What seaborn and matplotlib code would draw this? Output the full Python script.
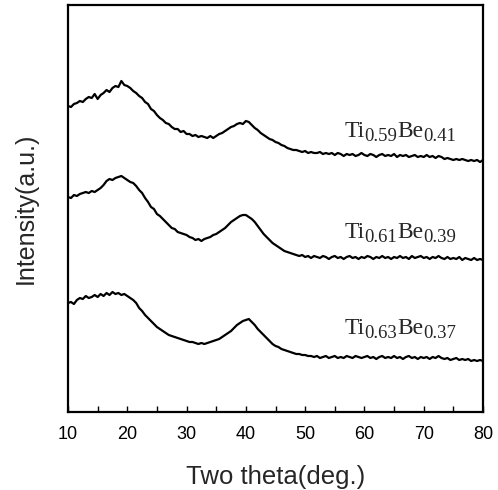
import numpy as np
import pandas as pd
import matplotlib
matplotlib.use("Agg")
import matplotlib.pyplot as plt
import seaborn as sns
from matplotlib.ticker import MultipleLocator

two_theta = np.arange(10, 80.01, 0.5)

ti059 = [306,305,308,309,311,310,313,315,314,318,
         313,317,319,322,320,324,326,325,331,327,
         326,324,321,319,316,314,310,308,303,301,
         297,294,292,289,288,285,283,283,280,281,
         278,278,276,277,275,276,275,274,276,274,
         276,278,279,281,283,285,286,288,289,288,
         291,290,287,284,282,279,277,275,273,272,
         270,269,267,266,264,263,262,262,261,260,
         261,259,260,259,259,260,258,259,258,259,
         257,259,258,256,258,257,258,256,257,259,
         257,256,258,257,255,257,258,256,257,256,
         258,255,257,256,257,255,256,257,255,256,
         255,257,255,256,254,256,255,253,254,253,
         252,253,252,253,252,251,252,251,252,250,
         252]

ti061 = [215,214,217,216,218,219,220,219,221,220,
         222,224,227,231,233,232,234,235,236,234,
         232,230,229,226,222,219,214,210,205,203,
         198,196,193,190,187,184,183,180,179,178,
         177,175,174,172,173,171,173,174,175,177,
         178,180,182,184,187,190,192,194,196,197,
         197,195,193,190,186,182,178,175,172,169,
         167,165,163,161,160,159,158,157,156,157,
         155,156,154,156,155,154,156,155,153,155,
         156,154,155,153,155,156,154,155,153,155,
         154,156,155,153,155,154,156,154,155,153,
         155,154,156,154,155,153,156,154,155,156,
         154,155,153,155,154,156,154,153,155,153,
         154,153,155,152,154,153,152,154,152,153,
         152]

ti063 = [109,110,108,112,114,113,116,114,115,117,
         115,118,116,119,117,120,118,119,117,118,
         116,114,112,109,104,101,97,94,91,88,
         85,83,81,79,77,76,75,74,73,72,
         71,70,70,69,68,69,68,69,70,71,
         72,73,75,77,79,81,84,87,89,91,
         92,93,90,87,83,80,77,74,71,68,
         66,65,63,62,61,60,59,58,58,57,
         57,56,56,55,56,54,55,56,54,55,
         56,54,55,54,56,55,54,56,55,54,
         55,56,54,55,53,55,56,54,55,54,
         56,54,55,53,55,56,54,55,53,55,
         54,55,53,55,54,56,54,53,54,52,
         53,54,52,53,52,53,51,52,51,52,
         51]

sample_names = ["Ti0.59Be0.41", "Ti0.61Be0.39", "Ti0.63Be0.37"]
label_parts = [("Ti", "0.59", "Be", "0.41"),
               ("Ti", "0.61", "Be", "0.39"),
               ("Ti", "0.63", "Be", "0.37")]
label_x = [56.6, 56.6, 56.6]
label_y = [275, 174, 78]

df = pd.concat([
    pd.DataFrame({"two_theta": two_theta, "intensity": ti059, "sample": sample_names[0]}),
    pd.DataFrame({"two_theta": two_theta, "intensity": ti061, "sample": sample_names[1]}),
    pd.DataFrame({"two_theta": two_theta, "intensity": ti063, "sample": sample_names[2]}),
])

sns.set_style("white")
plt.rcParams['font.family'] = ['Liberation Sans', 'DejaVu Sans']

fig = plt.figure(figsize=(4.98, 4.90), dpi=100)
ax = fig.add_axes([68/498, 78/490, 415/498, 407/490])

sns.lineplot(data=df, x="two_theta", y="intensity", hue="sample",
             palette=["black"]*3, linewidth=1.6, legend=False, ax=ax)

main_fs = 17
sub_fs = 13.5
serif = "Liberation Serif"
for (el1, s1, el2, s2), lx, ly in zip(label_parts, label_x, label_y):
    t1 = ax.text(lx, ly, el1, ha="left", va="baseline", fontsize=main_fs, family=serif)
    t2 = ax.annotate(s1, xy=(1, 0), xycoords=t1, xytext=(0, 1), textcoords="offset points",
                     ha="left", va="baseline", fontsize=sub_fs, family=serif)
    t3 = ax.annotate(el2, xy=(1, 0), xycoords=(t2, t1),
                     ha="left", va="bottom", fontsize=main_fs, family=serif)
    ax.annotate(s2, xy=(1, 0), xycoords=(t3, t2), ha="left", va="bottom",
                fontsize=sub_fs, family=serif)

ax.set_xlim(10, 80)
ax.set_ylim(0, 407)
ax.xaxis.set_major_locator(MultipleLocator(10))
ax.xaxis.set_minor_locator(MultipleLocator(5))
ax.tick_params(axis="x", which="both", direction="in", length=4, width=1,
               bottom=True, top=False, labelsize=13, pad=10, colors="black")
ax.set_yticks([])
for s in ax.spines.values():
    s.set_linewidth(1.6)
    s.set_color("black")
ax.set_xlabel("Two theta(deg.)", fontsize=18.5, labelpad=16)
ax.set_ylabel("Intensity(a.u.)", fontsize=18, labelpad=22)

fig.savefig("out.png", dpi=100)
